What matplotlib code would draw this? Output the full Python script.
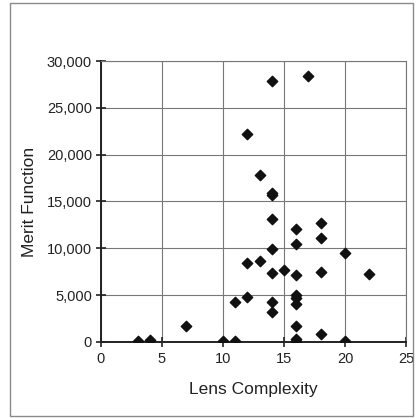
import matplotlib.pyplot as plt
from matplotlib.patches import Rectangle
from matplotlib.ticker import FuncFormatter

# lens complexity vs merit function
complexity = [3, 4, 7, 10, 11, 11, 12, 12, 12, 13, 13,
              14, 14, 14, 14, 14, 14, 14, 14, 15,
              16, 16, 16, 16, 16, 16, 16, 16, 16,
              17, 18, 18, 18, 18, 20, 20, 22]
merit = [150, 200, 1700, 80, 150, 4300, 4850, 8400, 22200, 8650, 17800,
         27900, 15950, 15700, 13100, 9950, 7400, 4300, 3150, 7650,
         12100, 10450, 7100, 5000, 4650, 4000, 1700, 300, 100,
         28400, 12650, 11150, 7500, 850, 9500, 120, 7250]

x_ticks = [0, 5, 10, 15, 20, 25]
y_ticks = [0, 5000, 10000, 15000, 20000, 25000, 30000]

plt.rcParams['font.family'] = 'Liberation Sans'

fig = plt.figure(figsize=(4.19, 4.18), dpi=100)
ax = fig.add_axes([0.241, 0.182, 0.728, 0.672])

# grey frame round the whole chart
fig.patches.append(Rectangle((0.024, 0.004), 0.962, 0.988, transform=fig.transFigure,
                             fill=False, edgecolor='#8a8a8a', linewidth=1.0))

ax.scatter(complexity, merit, marker='D', s=28, color='#111111', zorder=3)

ax.set_xlim(0, 25)
ax.set_ylim(0, 30000)
ax.set_xticks(x_ticks)
ax.set_yticks(y_ticks)
ax.yaxis.set_major_formatter(FuncFormatter(lambda v, p: f'{int(v):,}'))
ax.grid(True, color='#777777', linewidth=0.8)
ax.set_axisbelow(True)

for s in ['top', 'right']:
    ax.spines[s].set_color('#777777')
    ax.spines[s].set_linewidth(0.8)
for s in ['left', 'bottom']:
    ax.spines[s].set_color('#222222')
    ax.spines[s].set_linewidth(1.4)

ax.tick_params(axis='both', direction='inout', length=7, width=1.2, labelsize=10.5, colors='#222222')
ax.tick_params(axis='x', pad=4)
ax.tick_params(axis='y', pad=3)

ax.set_xlabel('Lens Complexity', fontsize=12.5, labelpad=11, color='#222222')
ax.set_ylabel('Merit Function', fontsize=12.5, labelpad=7, color='#222222')

fig.savefig('out.png', dpi=100)
